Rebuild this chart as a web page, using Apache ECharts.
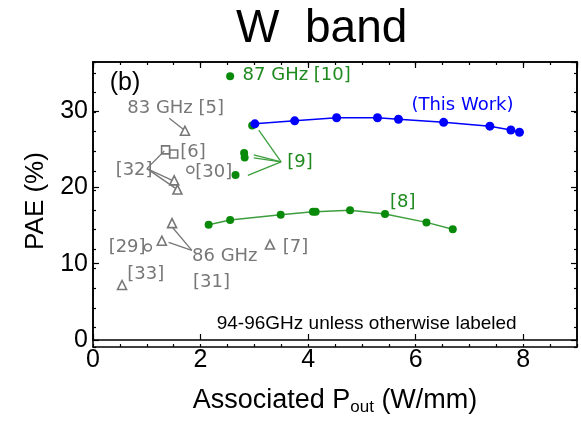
<!DOCTYPE html>
<html><head><meta charset="utf-8">
<script src="https://cdn.jsdelivr.net/npm/echarts@6/dist/echarts.min.js"></script>
<style>html,body{margin:0;padding:0;background:#fff}#c{width:581px;height:421px}</style>
</head><body><div id="c"></div>
<script>
// ---- data ----
const thisWorkX = [3.01, 3.75, 4.53, 5.29, 5.68, 6.52, 7.38, 7.77, 7.93];
const thisWorkY = [28.3, 28.7, 29.1, 29.1, 28.9, 28.5, 28.0, 27.5, 27.2];
const ref8X = [2.15, 2.55, 3.49, 4.09, 4.14, 4.78, 5.43, 6.20, 6.69];
const ref8Y = [15.1, 15.7, 16.4, 16.8, 16.8, 17.0, 16.5, 15.4, 14.5];
const ref9X = [2.96, 2.81, 2.82, 2.65];
const ref9Y = [28.1, 24.5, 23.9, 21.6];
const ref10X = [2.55];
const ref10Y = [34.55];
const triX = [1.71, 1.51, 1.57, 1.47, 1.28, 0.54, 3.29];   // [5],[32],[32],[31],[31],[33],[7]
const triY = [27.4, 20.9, 19.7, 15.3, 13.0, 7.2, 12.5];
const sqX = [1.35, 1.50];   // [6]
const sqY = [24.9, 24.35];
const circX = [1.81, 1.02]; // [30],[29]
const circY = [22.3, 12.1];

const xTicks = [0, 2, 4, 6, 8];
const yTicks = [0, 10, 20, 30];

// annotation texts with anchor (data coords, left edge / vertical middle)
const grayLabels = ['83 GHz [5]', '[6]', '[32]', '[30]', '[29]', '86 GHz', '[31]', '[33]', '[7]'];
const grayLabelX = [0.636, 1.62, 0.42, 1.90, 0.29, 1.84, 1.86, 0.636, 3.526];
const grayLabelY = [30.35, 24.6, 22.25, 22.0, 12.15, 10.96, 7.61, 8.54, 12.07];
const greenLabels = ['87 GHz [10]', '[9]', '[8]'];
const greenLabelX = [2.78, 3.61, 5.52];
const greenLabelY = [34.6, 23.3, 18.0];
const blueLabels = ['(This Work)'];
const blueLabelX = [5.92];
const blueLabelY = [30.73];

// leader lines (data coords)
const grayLeaders = [
  [[1.418, 29.03], [1.677, 27.58]],
  [[1.002, 22.44], [1.326, 24.74]],
  [[1.002, 22.44], [1.473, 20.91]],
  [[1.002, 22.44], [1.529, 19.89]],
  [[1.838, 11.73], [1.468, 14.83]],
  [[1.838, 11.73], [1.405, 12.79]]
];
const greenLeaders = [
  [[3.498, 23.33], [3.082, 27.48]],
  [[3.498, 23.33], [2.989, 24.23]],
  [[3.498, 23.33], [2.989, 23.84]],
  [[3.498, 23.33], [2.879, 21.55]]
];

const GREEN = '#0a8a0a', GREEN_LINE = '#3d9e3d', GREEN_TXT = '#1f8a1f';
const GRAY = '#777777', BLUE = '#0000ff';
const FONT = 'Liberation Sans';
const AFONT = 'DejaVu Sans';

function zip(a, b) { return a.map((v, i) => [v, b[i]]); }
function labelSeries(texts, xs, ys, color, size, family, pos) {
  return {
    type: 'scatter', xAxisIndex: 0, yAxisIndex: 0, silent: true,
    symbolSize: 0.1, itemStyle: { color: 'transparent', opacity: 1 }, z: 5,
    data: texts.map((t, i) => ({ value: [xs[i], ys[i]], name: t })),
    label: { show: true, position: pos || 'right', distance: 0, formatter: p => p.name,
      color: color, opacity: 1, fontSize: size, fontFamily: family }
  };
}
function leaderSeries(segs, color) {
  return {
    type: 'lines', coordinateSystem: 'cartesian2d', xAxisIndex: 0, yAxisIndex: 0, silent: true,
    lineStyle: { color: color, width: 1.3, opacity: 1 },
    data: segs.map(s => ({ coords: s }))
  };
}

function xAx(grid, pos, interval, len, showLabel, showName) {
  return {
    type: 'value', gridIndex: grid, position: pos, min: 0, max: 9, interval: interval,
    axisLine: { show: true, onZero: false, lineStyle: { color: '#000', width: 1.6 } },
    axisTick: { show: true, inside: true, length: len, lineStyle: { color: '#000', width: 1.2 } },
    splitLine: { show: false },
    axisLabel: { show: showLabel, showMaxLabel: false, margin: 8, fontSize: 25, color: '#000', fontFamily: FONT,
      alignMinLabel: 'center',
      formatter: v => (xTicks.indexOf(v) >= 0 ? String(v) : '') },
    name: showName ? '{a|Associated P}{s|out}{a| (W/mm)}' : '',
    nameLocation: 'middle', nameGap: 46,
    nameTextStyle: { rich: {
      a: { fontSize: 27, fontFamily: FONT, color: '#000', lineHeight: 30 },
      s: { fontSize: 17, fontFamily: FONT, color: '#000', lineHeight: 22, verticalAlign: 'bottom' } } }
  };
}
function yAx(grid, pos, interval, len, showLabel, showName) {
  return {
    type: 'value', gridIndex: grid, position: pos, min: 0, max: 36.4, interval: interval,
    axisLine: { show: true, onZero: false, lineStyle: { color: '#000', width: 1.6 } },
    axisTick: { show: true, inside: true, length: len, lineStyle: { color: '#000', width: 1.2 } },
    splitLine: { show: false },
    axisLabel: { show: showLabel, showMaxLabel: false, margin: 5, fontSize: 25, color: '#000', fontFamily: FONT,
      verticalAlignMinLabel: 'middle',
      formatter: v => (yTicks.indexOf(v) >= 0 ? String(v) : '') },
    name: showName ? 'PAE (%)' : '', nameLocation: 'middle', nameGap: 36,
    nameTextStyle: { fontSize: 26, fontFamily: FONT, color: '#000' }
  };
}

const gridRect = { left: 93, right: 4, top: 62, bottom: 74 };
const chart = echarts.init(document.getElementById('c'), null, { renderer: 'canvas' });
chart.setOption({
  animation: false,
  backgroundColor: '#fff',
  title: { text: 'W  band', left: 231, top: 1,
    textStyle: { fontSize: 46, fontWeight: 'normal', color: '#000', fontFamily: FONT } },
  grid: [Object.assign({}, gridRect), Object.assign({}, gridRect)],
  xAxis: [
    xAx(0, 'bottom', 2, 6, true, true),
    xAx(0, 'top', 2, 6, false, false),
    xAx(1, 'bottom', 0.5, 3, false, false),
    xAx(1, 'top', 0.5, 3, false, false)
  ],
  yAxis: [
    yAx(0, 'left', 10, 6, true, true),
    yAx(0, 'right', 10, 6, false, false),
    yAx(1, 'left', 2.5, 3, false, false),
    yAx(1, 'right', 2.5, 3, false, false)
  ],
  series: [
    leaderSeries(grayLeaders, GRAY),
    leaderSeries(greenLeaders, GREEN_LINE),
    { type: 'line', name: 'This Work', xAxisIndex: 0, yAxisIndex: 0, data: zip(thisWorkX, thisWorkY),
      symbol: 'circle', symbolSize: 9, itemStyle: { color: BLUE }, lineStyle: { color: BLUE, width: 1.5 }, z: 4 },
    { type: 'line', name: '[8]', xAxisIndex: 0, yAxisIndex: 0, data: zip(ref8X, ref8Y),
      symbol: 'circle', symbolSize: 8, itemStyle: { color: GREEN }, lineStyle: { color: GREEN_LINE, width: 1.5 }, z: 3 },
    { type: 'scatter', name: '[9]', xAxisIndex: 0, yAxisIndex: 0, data: zip(ref9X, ref9Y),
      symbol: 'circle', symbolSize: 8, itemStyle: { color: GREEN, opacity: 1 }, z: 3 },
    { type: 'scatter', name: '[10]', xAxisIndex: 0, yAxisIndex: 0, data: zip(ref10X, ref10Y),
      symbol: 'circle', symbolSize: 8, itemStyle: { color: GREEN, opacity: 1 }, z: 3 },
    { type: 'scatter', name: 'tri', xAxisIndex: 0, yAxisIndex: 0, data: zip(triX, triY),
      symbol: 'triangle', symbolSize: 9, itemStyle: { color: '#fff', opacity: 1, borderColor: GRAY, borderWidth: 1.6 } },
    { type: 'scatter', name: 'sq', xAxisIndex: 0, yAxisIndex: 0, data: zip(sqX, sqY),
      symbol: 'rect', symbolSize: 8, itemStyle: { color: 'rgba(255,255,255,0)', opacity: 1, borderColor: GRAY, borderWidth: 1.6 } },
    { type: 'scatter', name: 'circ', xAxisIndex: 0, yAxisIndex: 0, data: zip(circX, circY),
      symbol: 'circle', symbolSize: 7, itemStyle: { color: '#fff', opacity: 1, borderColor: GRAY, borderWidth: 1.5 } },
    labelSeries(grayLabels, grayLabelX, grayLabelY, GRAY, 18, AFONT),
    labelSeries(greenLabels, greenLabelX, greenLabelY, GREEN_TXT, 18, AFONT),
    labelSeries(blueLabels, blueLabelX, blueLabelY, BLUE, 18, AFONT),
    labelSeries(['(b)'], [0.596], [33.7], '#000', 25, FONT, 'inside'),
    labelSeries(['94-96GHz unless otherwise labeled'], [2.30], [2.17], '#000', 19, FONT)
  ]
});
</script></body></html>
